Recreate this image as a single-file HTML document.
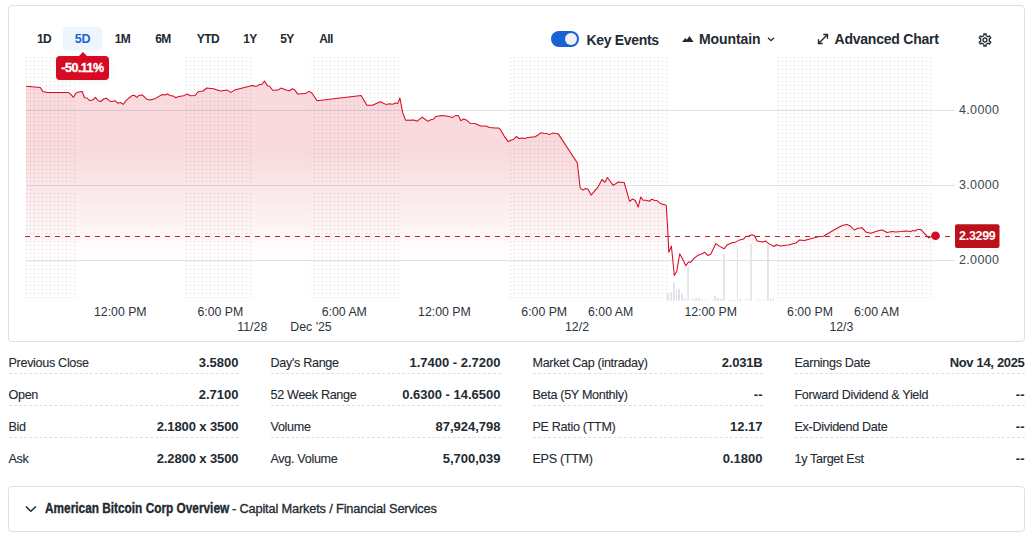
<!DOCTYPE html>
<html><head><meta charset="utf-8"><title>Chart</title>
<style>
html,body{margin:0;padding:0;background:#fff;}
body{width:1033px;height:541px;position:relative;overflow:hidden;font-family:"Liberation Sans",sans-serif;color:#232a31;}
.card{position:absolute;left:8px;top:5px;width:1015px;height:335px;border:1px solid #dcdfe5;border-radius:4px;box-sizing:content-box;}
.rng{position:absolute;top:27px;height:24px;line-height:24px;font-size:12px;font-weight:bold;color:#232a31;text-align:center;letter-spacing:-0.55px;}
.rng.sel{font-size:12.5px;letter-spacing:-0.3px;background:#eef5fd;color:#1a66d3;border-radius:4px;}
.tip{position:absolute;left:56px;top:56px;width:53px;height:24px;background:#d60a22;border-radius:4px;color:#fff;font-weight:bold;font-size:12.5px;line-height:25px;text-align:center;letter-spacing:-0.5px;-webkit-text-stroke:0.35px #fff;box-shadow:0 0 8px 3px rgba(255,255,255,.9), 0 1px 6px rgba(0,0,0,.12);}
.tip:before{content:"";position:absolute;left:23.2px;top:-4px;border-left:4.5px solid transparent;border-right:4.5px solid transparent;border-bottom:4.5px solid #d60a22;}
.hdr{position:absolute;font-size:14px;font-weight:bold;color:#232a31;white-space:nowrap;line-height:16px;}
.toggle{position:absolute;left:551px;top:31px;width:28px;height:16px;border-radius:8px;background:#1a61d5;}
.toggle i{position:absolute;right:2px;top:2px;width:12px;height:12px;border-radius:6px;background:#eef1f6;}
svg text{font-family:"Liberation Sans",sans-serif;}
ul.col{position:absolute;top:353px;width:230px;margin:0;padding:0;list-style:none;}
ul.col li{height:20px;margin-bottom:11px;border-bottom:1px dashed #dcdfe4;position:relative;font-size:13px;line-height:20px;}
ul.col li:last-child{border-bottom:none;}
ul.col .l{position:absolute;left:0;top:0;font-size:12.6px;letter-spacing:-0.32px;-webkit-text-stroke:0.1px #232a31;}
ul.col .v{position:absolute;right:0;top:0;font-weight:bold;letter-spacing:0;}
.card2{position:absolute;left:8px;top:486px;width:1015px;height:44px;border:1px solid #dcdfe5;border-radius:4px;}
.ttl{position:absolute;left:45px;top:493px;height:30px;line-height:30px;white-space:nowrap;font-size:14.3px;font-weight:bold;-webkit-text-stroke:0.35px #232a31;transform-origin:0 50%;transform:scaleX(.828);}
.sub{position:absolute;left:232px;top:494px;height:30px;line-height:30px;white-space:nowrap;font-size:12.8px;letter-spacing:-0.17px;-webkit-text-stroke:0.3px #232a31;}
</style></head><body>
<div class="card"></div>
<svg width="1033" height="345" viewBox="0 0 1033 345" style="position:absolute;left:0;top:0">
<defs>
<pattern id="dots" x="26" y="57" width="4" height="4" patternUnits="userSpaceOnUse"><rect x="0" y="0" width="1" height="1" fill="#d8d8d8"/></pattern>
<linearGradient id="g" x1="0" y1="57" x2="0" y2="298" gradientUnits="userSpaceOnUse"><stop offset="0" stop-color="#d60a22" stop-opacity=".15"/><stop offset=".398" stop-color="#d60a22" stop-opacity=".15"/><stop offset=".834" stop-color="#d60a22" stop-opacity="0"/><stop offset="1" stop-color="#d60a22" stop-opacity="0"/></linearGradient>
</defs>
<rect x="26" y="57" width="49" height="242" fill="url(#dots)"/><rect x="186" y="57" width="65" height="242" fill="url(#dots)"/><rect x="310.6" y="57" width="88.39999999999998" height="242" fill="url(#dots)"/><rect x="510" y="57" width="157" height="242" fill="url(#dots)"/><rect x="778" y="57" width="154" height="242" fill="url(#dots)"/>
<g stroke="#dfe2e7" stroke-width="1"><path d="M26,110.5H955M26,185.5H955M26,260.5H955"/></g>
<path d="M24.5,236.5H951" stroke="#fff" stroke-opacity=".85" stroke-width="3" stroke-dasharray="6,4"/>
<g fill="#dde1e8"><rect x="667.0" y="292.9" width="1.7" height="7.8"/><rect x="670.2" y="292.0" width="1.6" height="8.7"/><rect x="673.1" y="282.9" width="1.7" height="17.8"/><rect x="676.0" y="289.9" width="1.0" height="10.8"/><rect x="678.0" y="288.8" width="2.0" height="11.9"/><rect x="681.1" y="293.9" width="1.8" height="6.8"/><rect x="684.2" y="297.8" width="1.6" height="2.9"/><rect x="687.3" y="265.8" width="1.5" height="34.9"/><rect x="692.2" y="298.9" width="1.7" height="1.8"/><rect x="695.2" y="297.8" width="1.7" height="2.9"/><rect x="698.1" y="297.8" width="1.7" height="2.9"/><rect x="701.0" y="299.2" width="0.8" height="1.5"/><rect x="703.6" y="299.9" width="1.1" height="0.8"/><rect x="706.2" y="299.9" width="1.7" height="0.8"/><rect x="711.9" y="299.2" width="1.0" height="1.5"/><rect x="714.0" y="295.8" width="1.8" height="4.9"/><rect x="716.9" y="297.8" width="2.0" height="2.9"/><rect x="720.0" y="298.9" width="1.8" height="1.8"/><rect x="723.1" y="254.2" width="1.7" height="46.5"/><rect x="728.2" y="299.8" width="1.5" height="0.9"/><rect x="731.1" y="299.8" width="1.7" height="0.9"/><rect x="734.1" y="299.8" width="1.6" height="0.9"/><rect x="736.9" y="246.5" width="1.0" height="54.2"/><rect x="739.0" y="298.9" width="2.0" height="1.8"/><rect x="745.2" y="298.9" width="1.7" height="1.8"/><rect x="747.9" y="298.9" width="1.0" height="1.8"/><rect x="750.3" y="244.1" width="1.5" height="56.6"/><rect x="756.2" y="299.9" width="1.7" height="0.8"/><rect x="759.1" y="299.9" width="1.7" height="0.8"/><rect x="764.0" y="299.9" width="1.7" height="0.8"/><rect x="767.1" y="244.9" width="1.7" height="55.8"/><rect x="770.0" y="298.9" width="1.8" height="1.8"/><rect x="773.0" y="297.8" width="0.8" height="2.9"/></g>
<path d="M26.0,86.2 L40.3,87.5 L42.7,91.6 L47.3,92.4 L68.2,92.4 L71.1,94.7 L73.4,97.3 L76.1,93.0 L78.7,92.1 L82.2,91.5 L84.5,97.7 L87.1,98.0 L89.7,100.6 L92.6,100.0 L95.5,97.4 L98.1,100.8 L100.7,101.5 L103.6,99.0 L106.5,98.2 L109.4,100.9 L111.8,101.4 L115.3,100.8 L117.8,103.2 L120.5,102.5 L123.2,104.4 L125.9,100.8 L129.2,97.7 L132.1,95.6 L134.4,95.3 L136.7,97.4 L139.1,95.3 L142.4,95.1 L146.8,99.2 L150.1,100.0 L155.5,98.4 L162.3,94.5 L165.2,94.9 L167.5,93.9 L170.0,95.5 L173.0,95.9 L175.9,97.8 L178.8,96.5 L183.6,95.7 L186.9,94.1 L190.4,95.7 L195.2,95.5 L198.1,91.8 L203.0,91.0 L206.8,87.9 L213.6,88.7 L220.3,91.0 L227.1,90.1 L231.0,92.4 L234.5,90.1 L252.3,85.6 L256.1,86.4 L259.1,84.8 L262.0,84.3 L264.5,81.0 L267.4,85.8 L269.7,86.2 L272.6,90.3 L278.0,90.1 L280.9,88.1 L286.2,90.1 L289.4,90.7 L292.5,88.7 L294.9,90.1 L297.8,94.1 L305.5,93.6 L308.8,91.4 L311.9,93.0 L317.1,100.7 L361.1,95.5 L366.9,105.2 L372.3,105.2 L380.4,101.7 L385.8,104.4 L389.7,103.8 L392.6,104.2 L395.5,103.0 L397.8,103.4 L399.9,98.0 L402.8,112.9 L405.6,120.3 L413.9,120.1 L417.2,121.2 L422.2,117.2 L428.0,121.4 L430.7,119.7 L433.2,119.3 L436.1,116.4 L442.0,115.4 L447.8,116.2 L452.6,117.4 L455.9,115.4 L458.4,115.8 L460.9,120.7 L463.6,118.9 L466.2,119.9 L470.0,123.2 L474.9,123.6 L480.7,125.9 L486.1,125.9 L489.4,127.4 L495.2,128.0 L498.5,128.0 L500.4,129.4 L503.9,135.6 L508.2,141.6 L511.3,140.0 L513.6,139.4 L516.1,136.5 L519.0,138.5 L522.3,138.1 L524.2,138.5 L528.1,137.5 L534.9,136.7 L537.8,135.2 L541.1,132.7 L543.6,133.3 L546.9,133.4 L549.4,134.6 L552.4,133.1 L558.3,133.9 L577.4,163.0 L580.1,187.8 L583.0,190.1 L585.5,188.5 L588.0,189.3 L591.1,195.1 L598.1,186.8 L602.0,179.4 L604.9,182.3 L607.4,177.5 L613.2,185.4 L618.4,182.0 L624.2,182.5 L629.6,201.3 L632.5,199.0 L635.3,200.5 L638.2,207.1 L640.7,197.1 L643.2,200.3 L646.1,200.3 L649.0,201.3 L651.9,199.2 L654.2,200.3 L657.1,200.7 L661.0,203.8 L666.2,205.2 L667.5,225.2 L668.8,252.3 L671.4,246.1 L674.3,275.5 L676.8,271.2 L679.7,253.8 L682.6,259.1 L685.9,265.8 L688.4,262.0 L690.7,262.3 L693.8,258.7 L698.1,255.2 L702.0,253.8 L704.9,252.3 L707.8,255.4 L710.7,254.2 L715.9,243.6 L719.4,246.1 L724.2,248.8 L727.1,244.9 L732.5,242.6 L734.9,242.4 L739.7,239.9 L743.6,239.1 L746.1,236.2 L748.8,236.0 L751.9,234.7 L754.6,235.8 L757.1,241.0 L762.9,242.0 L765.5,240.9 L768.8,243.6 L774.0,246.5 L776.5,244.7 L780.4,246.1 L788.1,244.9 L795.9,243.0 L799.7,239.9 L804.4,240.6 L815.3,237.6 L819.1,236.4 L823.5,236.3 L833.9,230.0 L842.6,225.2 L847.4,224.6 L850.7,226.3 L854.2,230.0 L858.1,228.3 L862.0,227.7 L865.8,231.9 L870.7,233.3 L877.4,231.0 L882.3,230.0 L887.1,232.5 L892.0,231.4 L895.8,232.1 L900.7,231.6 L905.5,231.0 L910.7,231.6 L912.3,230.6 L915.2,231.0 L917.7,229.4 L921.0,229.6 L924.9,233.9 L928.6,237.9 L932.0,236.2 L935.5,235.8 L935.5,298 L26.0,298 Z" fill="url(#g)"/>
<path d="M26.0,86.2 L40.3,87.5 L42.7,91.6 L47.3,92.4 L68.2,92.4 L71.1,94.7 L73.4,97.3 L76.1,93.0 L78.7,92.1 L82.2,91.5 L84.5,97.7 L87.1,98.0 L89.7,100.6 L92.6,100.0 L95.5,97.4 L98.1,100.8 L100.7,101.5 L103.6,99.0 L106.5,98.2 L109.4,100.9 L111.8,101.4 L115.3,100.8 L117.8,103.2 L120.5,102.5 L123.2,104.4 L125.9,100.8 L129.2,97.7 L132.1,95.6 L134.4,95.3 L136.7,97.4 L139.1,95.3 L142.4,95.1 L146.8,99.2 L150.1,100.0 L155.5,98.4 L162.3,94.5 L165.2,94.9 L167.5,93.9 L170.0,95.5 L173.0,95.9 L175.9,97.8 L178.8,96.5 L183.6,95.7 L186.9,94.1 L190.4,95.7 L195.2,95.5 L198.1,91.8 L203.0,91.0 L206.8,87.9 L213.6,88.7 L220.3,91.0 L227.1,90.1 L231.0,92.4 L234.5,90.1 L252.3,85.6 L256.1,86.4 L259.1,84.8 L262.0,84.3 L264.5,81.0 L267.4,85.8 L269.7,86.2 L272.6,90.3 L278.0,90.1 L280.9,88.1 L286.2,90.1 L289.4,90.7 L292.5,88.7 L294.9,90.1 L297.8,94.1 L305.5,93.6 L308.8,91.4 L311.9,93.0 L317.1,100.7 L361.1,95.5 L366.9,105.2 L372.3,105.2 L380.4,101.7 L385.8,104.4 L389.7,103.8 L392.6,104.2 L395.5,103.0 L397.8,103.4 L399.9,98.0 L402.8,112.9 L405.6,120.3 L413.9,120.1 L417.2,121.2 L422.2,117.2 L428.0,121.4 L430.7,119.7 L433.2,119.3 L436.1,116.4 L442.0,115.4 L447.8,116.2 L452.6,117.4 L455.9,115.4 L458.4,115.8 L460.9,120.7 L463.6,118.9 L466.2,119.9 L470.0,123.2 L474.9,123.6 L480.7,125.9 L486.1,125.9 L489.4,127.4 L495.2,128.0 L498.5,128.0 L500.4,129.4 L503.9,135.6 L508.2,141.6 L511.3,140.0 L513.6,139.4 L516.1,136.5 L519.0,138.5 L522.3,138.1 L524.2,138.5 L528.1,137.5 L534.9,136.7 L537.8,135.2 L541.1,132.7 L543.6,133.3 L546.9,133.4 L549.4,134.6 L552.4,133.1 L558.3,133.9 L577.4,163.0 L580.1,187.8 L583.0,190.1 L585.5,188.5 L588.0,189.3 L591.1,195.1 L598.1,186.8 L602.0,179.4 L604.9,182.3 L607.4,177.5 L613.2,185.4 L618.4,182.0 L624.2,182.5 L629.6,201.3 L632.5,199.0 L635.3,200.5 L638.2,207.1 L640.7,197.1 L643.2,200.3 L646.1,200.3 L649.0,201.3 L651.9,199.2 L654.2,200.3 L657.1,200.7 L661.0,203.8 L666.2,205.2 L667.5,225.2 L668.8,252.3 L671.4,246.1 L674.3,275.5 L676.8,271.2 L679.7,253.8 L682.6,259.1 L685.9,265.8 L688.4,262.0 L690.7,262.3 L693.8,258.7 L698.1,255.2 L702.0,253.8 L704.9,252.3 L707.8,255.4 L710.7,254.2 L715.9,243.6 L719.4,246.1 L724.2,248.8 L727.1,244.9 L732.5,242.6 L734.9,242.4 L739.7,239.9 L743.6,239.1 L746.1,236.2 L748.8,236.0 L751.9,234.7 L754.6,235.8 L757.1,241.0 L762.9,242.0 L765.5,240.9 L768.8,243.6 L774.0,246.5 L776.5,244.7 L780.4,246.1 L788.1,244.9 L795.9,243.0 L799.7,239.9 L804.4,240.6 L815.3,237.6 L819.1,236.4 L823.5,236.3 L833.9,230.0 L842.6,225.2 L847.4,224.6 L850.7,226.3 L854.2,230.0 L858.1,228.3 L862.0,227.7 L865.8,231.9 L870.7,233.3 L877.4,231.0 L882.3,230.0 L887.1,232.5 L892.0,231.4 L895.8,232.1 L900.7,231.6 L905.5,231.0 L910.7,231.6 L912.3,230.6 L915.2,231.0 L917.7,229.4 L921.0,229.6 L924.9,233.9 L928.6,237.9 L932.0,236.2 L935.5,235.8" fill="none" stroke="#d60a22" stroke-width="1.05" stroke-linejoin="round"/>
<path d="M25,236.5H951" stroke="#c4202a" stroke-width="1" stroke-dasharray="5,5"/>
<circle cx="935.5" cy="235.8" r="4.3" fill="#d60a22"/>
<g font-size="12.5" fill="#3e464e" letter-spacing="0.35"><text x="959" y="114">4.0000</text><text x="959" y="189">3.0000</text><text x="959" y="264">2.0000</text></g>
<rect x="955" y="224.3" width="44.5" height="23.7" rx="2" fill="#bd111a"/>
<text x="977.3" y="240" text-anchor="middle" font-size="12.5" font-weight="bold" fill="#fff" letter-spacing="-0.3">2.3299</text>
<g font-size="12.3" fill="#2c343c"><text x="120.3" y="316" text-anchor="middle">12:00 PM</text><text x="220.4" y="316" text-anchor="middle">6:00 PM</text><text x="344.3" y="316" text-anchor="middle">6:00 AM</text><text x="444.4" y="316" text-anchor="middle">12:00 PM</text><text x="544.2" y="316" text-anchor="middle">6:00 PM</text><text x="610.6" y="316" text-anchor="middle">6:00 AM</text><text x="710.7" y="316" text-anchor="middle">12:00 PM</text><text x="810" y="316" text-anchor="middle">6:00 PM</text><text x="876.6" y="316" text-anchor="middle">6:00 AM</text><text x="252.3" y="330.5" text-anchor="middle">11/28</text><text x="311" y="330.5" text-anchor="middle">Dec '25</text><text x="577" y="330.5" text-anchor="middle">12/2</text><text x="841.4" y="330.5" text-anchor="middle">12/3</text></g>
</svg>
<div class="rng" style="left:34px;width:20px">1D</div>
<div class="rng sel" style="left:63px;width:39px">5D</div>
<div class="rng" style="left:112px;width:21px">1M</div>
<div class="rng" style="left:152px;width:22px">6M</div>
<div class="rng" style="left:192px;width:32px">YTD</div>
<div class="rng" style="left:240px;width:20px">1Y</div>
<div class="rng" style="left:277px;width:20px">5Y</div>
<div class="rng" style="left:316px;width:20px">All</div>
<div class="tip">-50.11%</div>
<div class="toggle"><i></i></div>
<div class="hdr" style="left:586.5px;top:32px;letter-spacing:-0.33px">Key Events</div>
<svg style="position:absolute;left:682px;top:35px" width="12" height="8" viewBox="0 0 12 8"><path d="M0.1,7 L3.3,2.9 L4.9,4.8 L7.5,0.9 L11.6,7 Z" fill="#232a31"/></svg>
<div class="hdr" style="left:699px;top:31px;letter-spacing:-0.1px">Mountain</div>
<svg style="position:absolute;left:766px;top:36px" width="10" height="7" viewBox="0 0 10 7"><path d="M2,1.7 L5,4.7 L8,1.7" fill="none" stroke="#232a31" stroke-width="1.3"/></svg>
<svg style="position:absolute;left:817px;top:33px" width="12" height="12" viewBox="0 0 12 12"><path d="M1.5,10.5 L10.5,1.5 M6.3,1.5 H10.5 V5.7 M1.5,6.3 V10.5 H5.7" fill="none" stroke="#232a31" stroke-width="1.4"/></svg>
<div class="hdr" style="left:834.5px;top:31px;letter-spacing:-0.22px">Advanced Chart</div>
<svg style="position:absolute;left:977px;top:32px" width="16" height="16" viewBox="0 0 24 24"><path fill="#232a31" d="M19.43 12.98c.04-.32.07-.64.07-.98 0-.34-.03-.66-.07-.98l2.11-1.65c.19-.15.24-.42.12-.64l-2-3.46c-.09-.16-.26-.25-.44-.25-.06 0-.12.01-.17.03l-2.49 1c-.52-.4-1.08-.73-1.69-.98l-.38-2.65C14.46 2.18 14.25 2 14 2h-4c-.25 0-.46.18-.49.42l-.38 2.65c-.61.25-1.17.59-1.69.98l-2.49-1c-.06-.02-.12-.03-.18-.03-.17 0-.34.09-.43.25l-2 3.46c-.13.22-.07.49.12.64l2.11 1.65c-.04.32-.07.65-.07.98 0 .33.03.66.07.98l-2.11 1.65c-.19.15-.24.42-.12.64l2 3.46c.09.16.26.25.44.25.06 0 .12-.01.17-.03l2.49-1c.52.4 1.08.73 1.69.98l.38 2.65c.03.24.24.42.49.42h4c.25 0 .46-.18.49-.42l.38-2.65c.61-.25 1.17-.59 1.69-.98l2.49 1c.06.02.12.03.18.03.17 0 .34-.09.43-.25l2-3.46c.12-.22.07-.49-.12-.64l-2.11-1.65zm-1.98-1.71c.04.31.05.52.05.73 0 .21-.02.43-.05.73l-.14 1.13.89.7 1.08.84-.7 1.21-1.27-.51-1.04-.42-.9.68c-.43.32-.84.56-1.25.73l-1.06.43-.16 1.13-.2 1.35h-1.4l-.19-1.35-.16-1.13-1.06-.43c-.43-.18-.83-.41-1.23-.71l-.91-.7-1.06.43-1.27.51-.7-1.21 1.08-.84.89-.7-.14-1.13c-.03-.31-.05-.54-.05-.74s.02-.43.05-.73l.14-1.13-.89-.7-1.08-.84.7-1.21 1.27.51 1.04.42.9-.68c.43-.32.84-.56 1.25-.73l1.06-.43.16-1.13.2-1.35h1.39l.19 1.35.16 1.13 1.06.43c.43.18.83.41 1.23.71l.91.7 1.06-.43 1.27-.51.7 1.21-1.07.85-.89.7.14 1.13zM12 8c-2.21 0-4 1.79-4 4s1.790 4 4 4 4-1.790 4-4-1.790-4-4-4zm0 6c-1.100 0-2-.9-2-2s.9-2 2-2 2 .9 2 2-.9 2-2 2z"/></svg>
<ul class="col" style="left:8.5px"><li><span class="l">Previous Close</span><span class="v" style="letter-spacing:0px">3.5800</span></li><li><span class="l">Open</span><span class="v" style="letter-spacing:0px">2.7100</span></li><li><span class="l">Bid</span><span class="v" style="letter-spacing:-0.1px">2.1800 x 3500</span></li><li><span class="l">Ask</span><span class="v" style="letter-spacing:-0.1px">2.2800 x 3500</span></li></ul><ul class="col" style="left:270.5px"><li><span class="l">Day's Range</span><span class="v" style="letter-spacing:0px">1.7400 - 2.7200</span></li><li><span class="l">52 Week Range</span><span class="v" style="letter-spacing:0px">0.6300 - 14.6500</span></li><li><span class="l">Volume</span><span class="v" style="letter-spacing:0px">87,924,798</span></li><li><span class="l">Avg. Volume</span><span class="v" style="letter-spacing:0px">5,700,039</span></li></ul><ul class="col" style="left:532.5px"><li><span class="l">Market Cap (intraday)</span><span class="v" style="letter-spacing:-0.2px">2.031B</span></li><li><span class="l">Beta (5Y Monthly)</span><span class="v" style="letter-spacing:0px">--</span></li><li><span class="l">PE Ratio (TTM)</span><span class="v" style="letter-spacing:0px">12.17</span></li><li><span class="l">EPS (TTM)</span><span class="v" style="letter-spacing:0px">0.1800</span></li></ul><ul class="col" style="left:794.5px"><li><span class="l">Earnings Date</span><span class="v" style="letter-spacing:-0.33px">Nov 14, 2025</span></li><li><span class="l">Forward Dividend &amp; Yield</span><span class="v" style="letter-spacing:0px">--</span></li><li><span class="l">Ex-Dividend Date</span><span class="v" style="letter-spacing:0px">--</span></li><li><span class="l">1y Target Est</span><span class="v" style="letter-spacing:0px">--</span></li></ul>
<div class="card2"></div>
<svg style="position:absolute;left:24.4px;top:504.2px" width="14" height="10" viewBox="0 0 14 10"><path d="M1.9,2.5 L6.85,7.3 L11.8,2.5" fill="none" stroke="#232a31" stroke-width="1.5"/></svg>
<div class="ttl">American Bitcoin Corp Overview</div>
<div class="sub">- Capital Markets / Financial Services</div>
</body></html>
